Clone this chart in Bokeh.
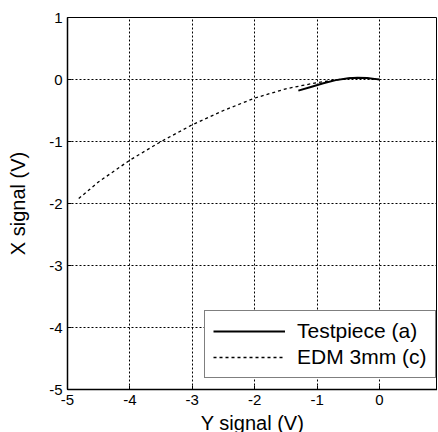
from bokeh.plotting import figure
from bokeh.models import Legend, LegendItem, FixedTicker
from bokeh.embed import file_html
from bokeh.resources import INLINE

# Testpiece (a) - solid
tp_y = [-1.30, -1.10, -0.90, -0.70, -0.50, -0.35, -0.20, -0.08, 0.0]
tp_x = [-0.18, -0.12, -0.06, -0.01, 0.02, 0.03, 0.025, 0.01, 0.0]

# EDM 3mm (c) - dashed
edm_y = [-4.82, -4.50, -4.00, -3.50, -3.00, -2.50, -2.00, -1.50, -1.00, -0.50, -0.20, 0.0]
edm_x = [-1.92, -1.65, -1.30, -1.00, -0.73, -0.50, -0.30, -0.15, -0.05, 0.02, 0.02, 0.0]

x_ticks = [-5, -4, -3, -2, -1, 0, 1]
y_ticks = [-5, -4, -3, -2, -1, 0, 1]

FONT = "Liberation Sans"

p = figure(frame_width=370, frame_height=372, x_range=(-5, 0.93), y_range=(-5, 1),
           output_backend="svg", toolbar_location=None,
           min_border_left=67, min_border_right=0, min_border_top=17, min_border_bottom=42)
p.background_fill_color = "white"
p.border_fill_color = "white"
p.outline_line_color = "black"
p.outline_line_width = 1

for ax in (p.xaxis[0], p.yaxis[0]):
    ax.major_label_text_font = FONT
    ax.major_label_text_font_size = "15px"
    ax.major_label_text_color = "black"
    ax.axis_label_text_font = FONT
    ax.axis_label_text_font_size = "20px"
    ax.axis_label_text_font_style = "normal"
    ax.axis_label_text_color = "black"
    ax.axis_line_color = "black"
    ax.axis_line_width = 1.5
    ax.major_tick_in = 4
    ax.major_tick_out = 0
    ax.minor_tick_line_color = None
    ax.major_tick_line_color = "black"

p.xaxis.ticker = FixedTicker(ticks=x_ticks)
p.yaxis.ticker = FixedTicker(ticks=y_ticks)
p.xaxis.major_label_overrides = {t: str(t) for t in x_ticks}
p.yaxis.major_label_overrides = {t: str(t) for t in y_ticks}
p.xaxis.axis_label = "Y signal (V)"
p.yaxis.axis_label = "X signal (V)"
p.xaxis.axis_label_standoff = 4
p.yaxis.axis_label_standoff = 17

for g in (p.xgrid[0], p.ygrid[0]):
    g.grid_line_color = "black"
    g.grid_line_dash = "2 2"
    g.grid_line_width = 1
    g.ticker = FixedTicker(ticks=x_ticks)

r1 = p.line(tp_y, tp_x, line_color="black", line_width=2)
r2 = p.line(edm_y, edm_x, line_color="black", line_width=1.3, line_dash="3 3")

legend = Legend(items=[LegendItem(label="Testpiece (a)", renderers=[r1]),
                       LegendItem(label="EDM 3mm (c)", renderers=[r2])],
                location=(137, 11))
legend.label_text_font = FONT
legend.label_text_font_size = "21px"
legend.label_text_color = "black"
legend.glyph_width = 72
legend.glyph_height = 20
legend.label_height = 20
legend.label_width = 128
legend.spacing = 2
legend.padding = 8
legend.margin = 0
legend.label_standoff = 12
legend.border_line_color = "black"
legend.border_line_width = 1
legend.background_fill_alpha = 1
p.add_layout(legend, "center")

open("out.html", "w").write(file_html(p, INLINE))
